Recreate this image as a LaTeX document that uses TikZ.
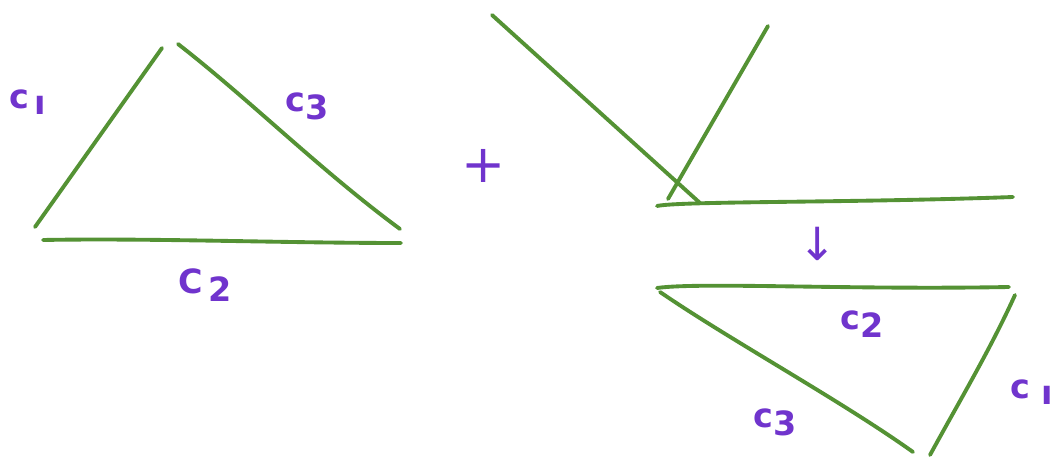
\documentclass[tikz,border=0pt]{standalone}
\usepackage{fontspec}
\setmainfont{DejaVu Sans}
\definecolor{pen}{RGB}{84,146,52}
\definecolor{ink}{RGB}{112,52,205}
\tikzset{
  stroke/.style={draw=pen, line width=2.2pt, line cap=round},
  lbl/.style={text=ink, font=\bfseries\fontsize{19}{22}\selectfont, inner sep=0pt},
}
\begin{document}
\begin{tikzpicture}[x=0.02cm,y=-0.02cm]
\useasboundingbox[fill=white] (0,0) rectangle (1055,462);
% left triangle
\coordinate (a1) at (35,227); \coordinate (a2) at (162,48);
\coordinate (b1) at (178,44); \coordinate (b2) at (400,229);
\coordinate (d1) at (43,240); \coordinate (d2) at (401,243);
\draw[stroke] (a1) -- (a2);
\draw[stroke] (b1) .. controls (250,100) and (320,170) .. (b2);
\draw[stroke] (d1) .. controls (150,238) and (280,243) .. (d2);
\node[lbl] (lc1) at (28,102) {c\raisebox{-0.3ex}{\,ı}};
\node[lbl] (lc3) at (307,106) {c\raisebox{-0.45ex}{3}};
\node[lbl] (lc2) at (205,285) {C\raisebox{-0.45ex}{\,2}};
% plus
\node[text=ink, font=\fontsize{30}{30}\selectfont, inner sep=0pt] (plus) at (484,166) {+};
% pieces
\coordinate (e1) at (492,15); \coordinate (e2) at (700,203);
\coordinate (f1) at (668,199); \coordinate (f2) at (768,26);
\coordinate (g1) at (657,206); \coordinate (g2) at (1013,197);
\draw[stroke] (e1) -- (e2);
\draw[stroke] (f1) -- (f2);
\draw[stroke] (g1) .. controls (680,201) and (850,203) .. (g2);
% arrow
\node[text=ink, font=\fontsize{26}{26}\selectfont, inner sep=0pt] (arr) at (818,244) {↓};
% right triangle
\coordinate (h1) at (657,288); \coordinate (h2) at (1009,287);
\coordinate (i1) at (660,292); \coordinate (i2) at (913,452);
\coordinate (j1) at (1015,295); \coordinate (j2) at (930,455);
\draw[stroke] (h1) .. controls (700,282) and (850,290) .. (h2);
\draw[stroke] (i1) .. controls (730,340) and (840,400) .. (i2);
\draw[stroke] (j1) .. controls (990,350) and (960,400) .. (j2);
\node[lbl] (rc2) at (862,324) {c\raisebox{-0.45ex}{2}};
\node[lbl] (rc1) at (1032,392) {c\,\,\raisebox{-0.3ex}{ı}};
\node[lbl] (rc3) at (775,422) {c\raisebox{-0.45ex}{3}};
\end{tikzpicture}
\end{document}
